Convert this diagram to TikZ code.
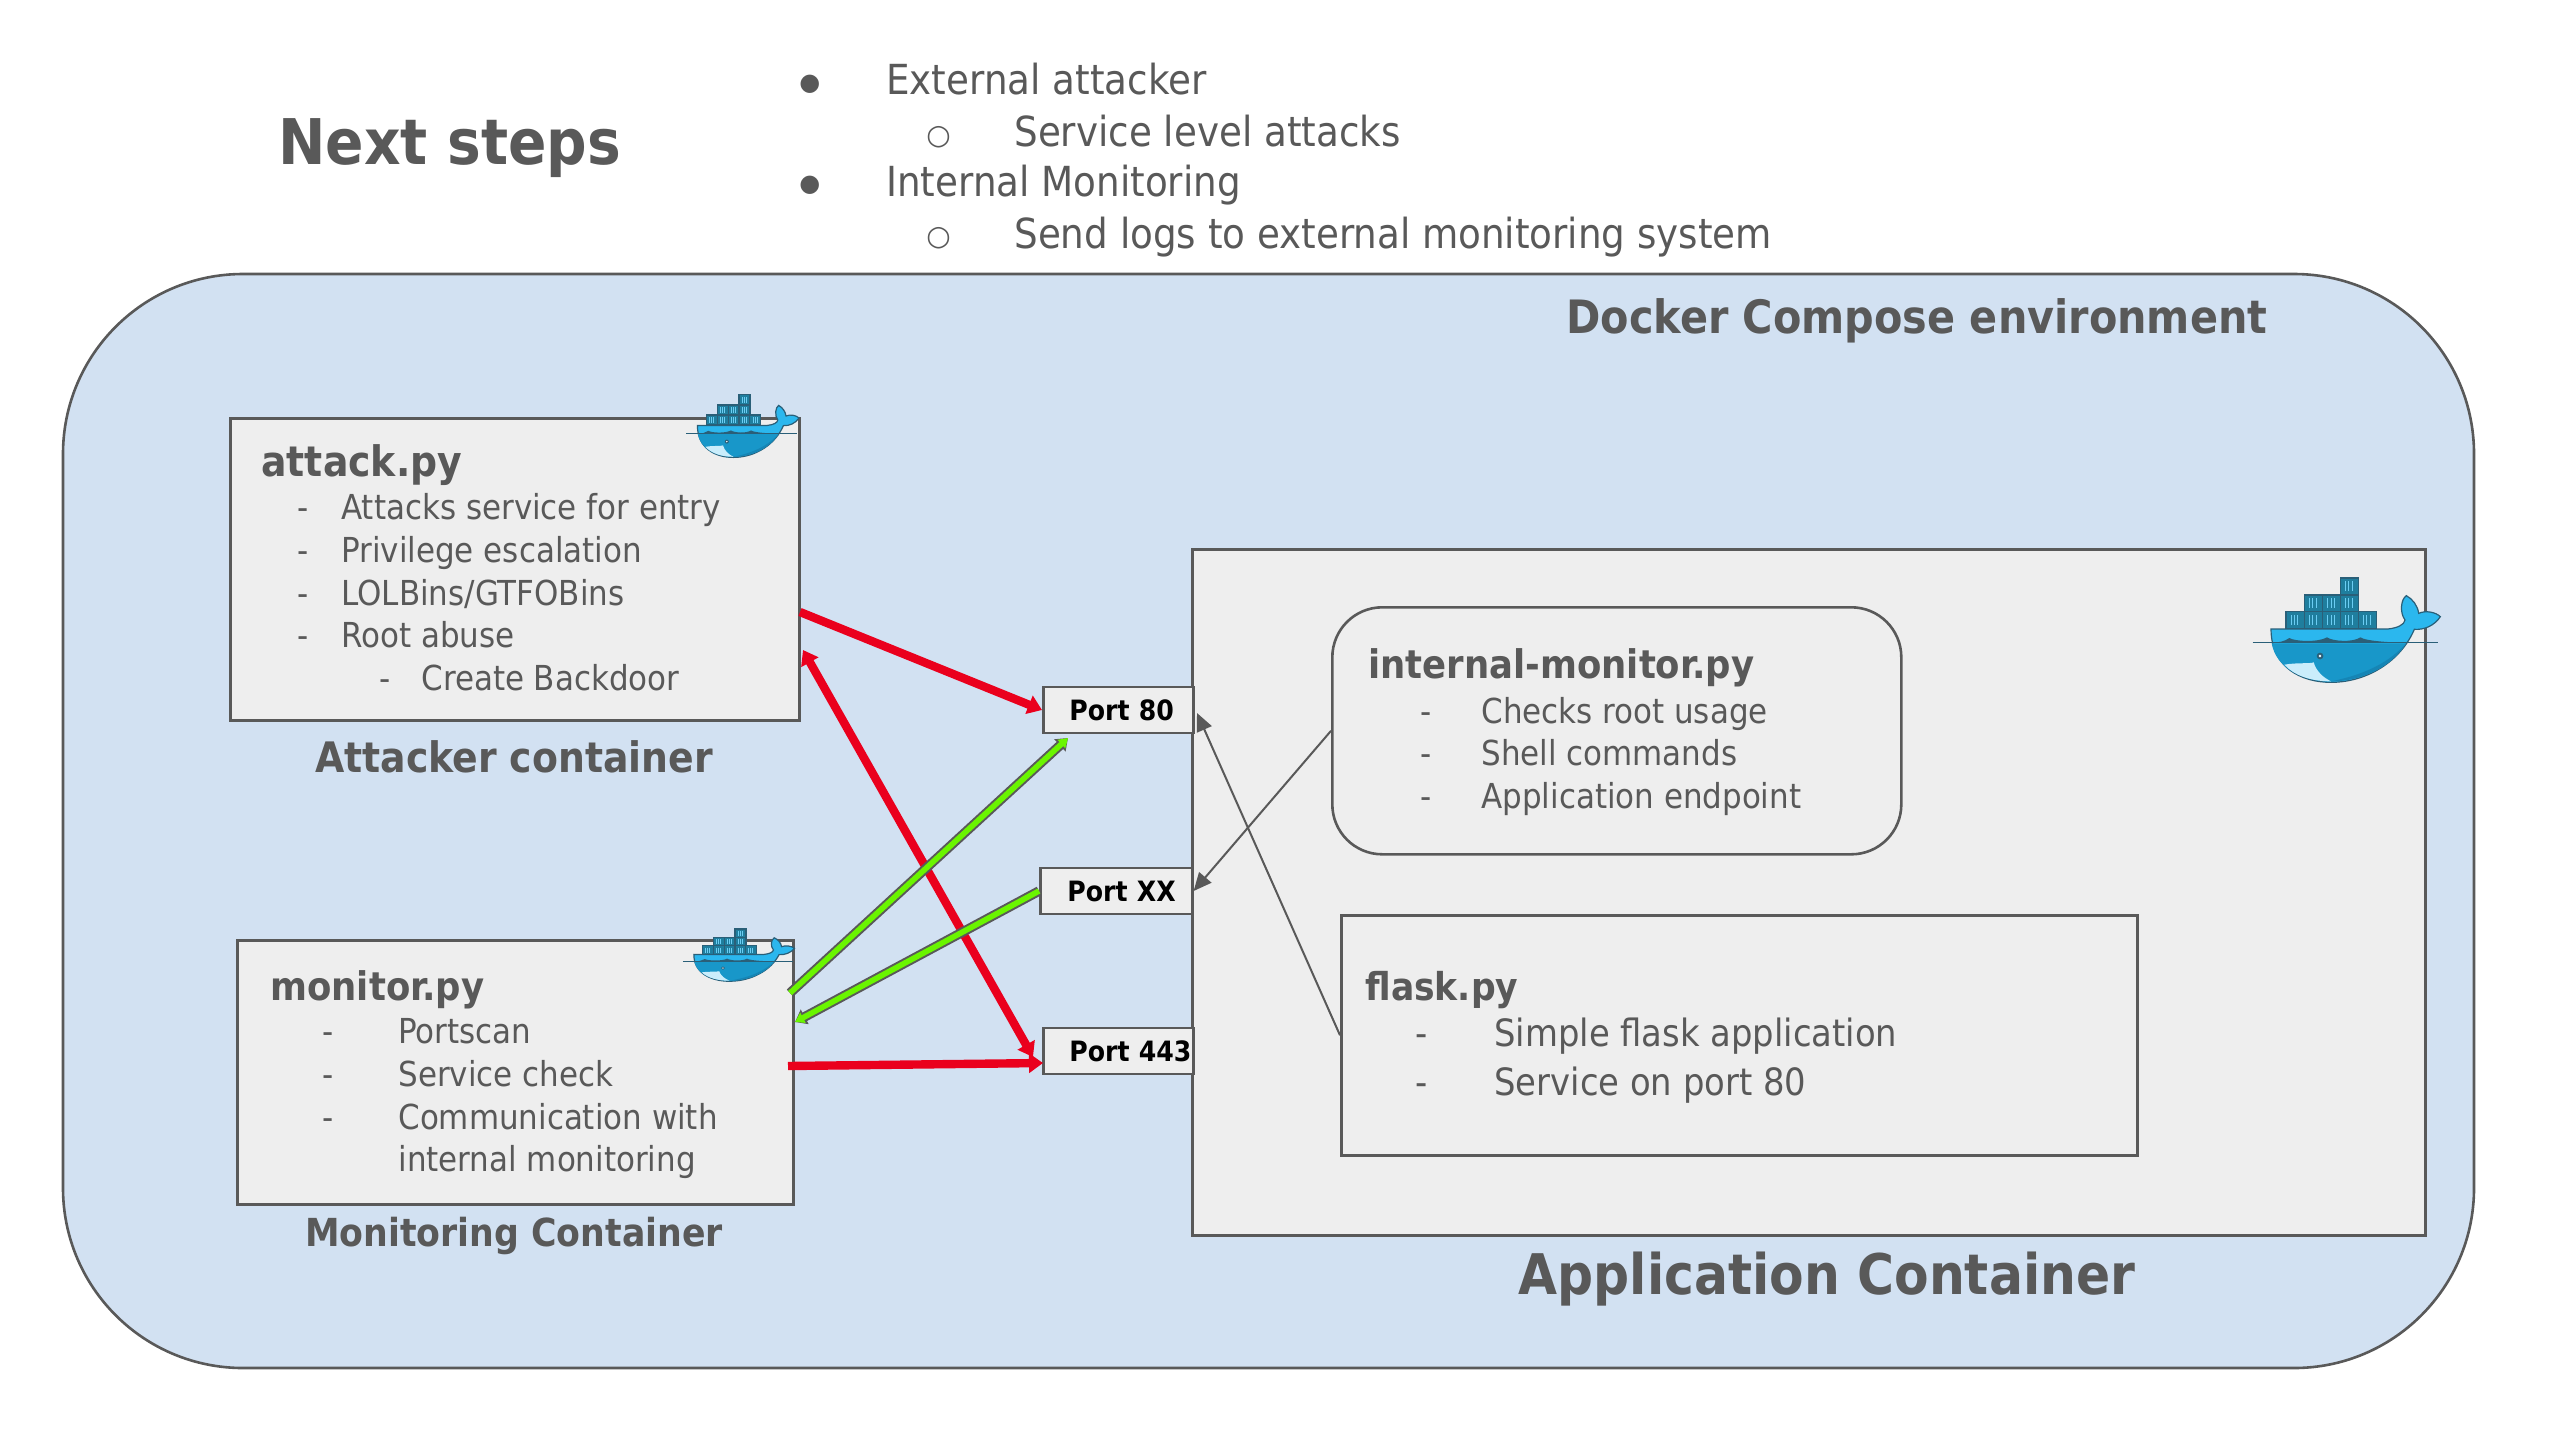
\documentclass[tikz,border=0pt]{standalone}
\usepackage{fontspec}
\setmainfont{DejaVu Sans Condensed}[BoldFont={DejaVu Sans Condensed Bold}]
\newfontfamily\symfont{DejaVu Sans}
\usetikzlibrary{arrows.meta}
\definecolor{envblue}{HTML}{D2E1F2}
\definecolor{boxgray}{HTML}{EEEEEE}
\definecolor{edgegray}{HTML}{595959}
\definecolor{redline}{HTML}{EA001D}
\definecolor{greenline}{HTML}{6AF500}
\definecolor{whalelight}{HTML}{2BB7EE}
\definecolor{whalemid}{HTML}{1897C9}
\definecolor{whalelow}{HTML}{1585B5}
\definecolor{whaledark}{HTML}{2A5F78}
\definecolor{cargo}{HTML}{1F7E9E}
\tikzset{
  x=0.5pt, y=-0.5pt,
  box/.style={draw=edgegray, fill=boxgray, line width=1.3pt, anchor=north west, inner sep=0pt},
  portbox/.style={box, anchor=west, font=\bfseries\fontsize{14}{18}\selectfont, text=black, align=left, inner xsep=13pt, text width=49pt, minimum height=23pt},
  line/.style={anchor=base west, inner sep=0pt, text=edgegray, font=\fontsize{17.2}{22}\selectfont},
  bigline/.style={line, font=\fontsize{18.8}{24}\selectfont},
  stepline/.style={line, font=\fontsize{20.7}{24}\selectfont},
  head/.style={line, font=\bfseries\fontsize{19.7}{24}\selectfont},
  caption/.style={head, anchor=base},
  redarrow/.style={draw=redline, line width=4.2pt, -{Triangle[length=7pt,width=9.5pt]}},
  greenarrow/.style={draw=greenline, line width=2.8pt, -{Triangle[length=4.5pt,width=5.5pt]},
    preaction={draw=edgegray, line width=4.8pt, -{Triangle[length=5.5pt,width=8pt]}}},
  grayarrow/.style={draw=edgegray, line width=1pt, -{Triangle[length=9pt,width=8pt]}},
  pics/whale/.style={code={
    \begin{scope}[shift={(-378,-238)}]
    \foreach \cx/\cy in {195/183,250/183,305/183,358/183,412/183,250/133,305/133,358/133,358/82} {
      \draw [draw=whaledark, fill=cargo, line width=0.6pt] (\cx,\cy) rectangle ++(55,50);
      \foreach \sx in {15,25,35} \draw [draw=whalelight!70, line width=0.3pt] (\cx+\sx,\cy+10) -- (\cx+\sx,\cy+40);
    }
    \draw [draw=whaledark, fill=whalelight, line width=0.6pt] (150,235) -- (500,235) .. controls (530,232) and (550,222) .. (552,208) .. controls (535,185) and (540,145) .. (556,135) .. controls (575,145) and (590,165) .. (593,188) .. controls (615,178) and (645,185) .. (658,198) .. controls (640,225) and (610,238) .. (580,236) .. controls (540,330) and (440,395) .. (330,395) .. controls (240,395) and (150,350) .. (150,235) -- cycle;
    \fill [whalemid] (152,278) -- (555,278) .. controls (510,350) and (420,392) .. (330,392) .. controls (240,392) and (165,350) .. (152,278) -- cycle;
    \fill [whalelow] (555,278) .. controls (510,350) and (420,392) .. (330,392) .. controls (440,370) and (510,330) .. (555,278) -- cycle;
    \fill [whalelight!25!white] (190,342) .. controls (230,335) and (265,340) .. (278,335) .. controls (285,360) and (305,380) .. (330,392) .. controls (270,392) and (220,375) .. (190,342) -- cycle;
    \fill [whaledark] (297,316) circle (10);
    \fill [white] (297,316) circle (4);
    \fill [whaledark] (150,276) .. controls (175,276) and (190,272) .. (205,262) .. controls (220,272) and (290,276) .. (318,260) .. controls (335,272) and (395,276) .. (418,260) .. controls (435,272) and (520,276) .. (555,276) -- cycle;
    \draw [draw=whaledark, line width=0.6pt] (95,276) -- (650,276);
    \end{scope}
  }},
}
\newcommand{\listline}[6]{\node [#6] (#1d) at (#2,#4) {-}; \node [#6] (#1) at (#3,#4) {#5};}
\begin{document}
\begin{tikzpicture}
\useasboundingbox (0,0) rectangle (2557,1435);
\fill [white] (0,0) rectangle (2557,1435);
\node [head, font=\bfseries\fontsize{31.5}{36}\selectfont] (title) at (278,164) {Next steps};
\node [line, font=\symfont\fontsize{12}{22}\selectfont] (bulleta) at (799,90) {●};
\node [line, font=\symfont\fontsize{14}{22}\selectfont] (bulletb) at (926,144) {○};
\node [line, font=\symfont\fontsize{12}{22}\selectfont] (bulletc) at (799,191) {●};
\node [line, font=\symfont\fontsize{14}{22}\selectfont] (bulletd) at (926,245) {○};
\node [stepline] (stepa) at (886,94) {External attacker};
\node [stepline] (stepb) at (1014,146) {Service level attacks};
\node [stepline] (stepc) at (886,196) {Internal Monitoring};
\node [stepline] (stepd) at (1014,248) {Send logs to external monitoring system};
\draw [draw=edgegray, fill=envblue, line width=1.3pt, rounded corners=90pt] (63,274) rectangle (2474,1368);
\node [head, font=\bfseries\fontsize{23}{26}\selectfont] (envlabel) at (1566,333) {Docker Compose environment};
\node [box, minimum width=284.5pt, minimum height=151pt] (attackbox) at (229,417) {};
\node [head, font=\bfseries\fontsize{21}{26}\selectfont] (attackname) at (261,476) {attack.py};
\listline{attacka}{297}{341}{519}{Attacks service for entry}{line}
\listline{attackb}{297}{341}{562}{Privilege escalation}{line}
\listline{attackc}{297}{341}{605}{LOLBins/GTFOBins}{line}
\listline{attackd}{297}{341}{647}{Root abuse}{line}
\listline{attacke}{379}{421}{690}{Create Backdoor}{line}
\node [caption, font=\bfseries\fontsize{21}{26}\selectfont] (attacklabel) at (514,772) {Attacker container};
\node [box, minimum width=278pt, minimum height=132pt] (monitorbox) at (236,939) {};
\node [head] (monitorname) at (270,1000) {monitor.py};
\listline{monitora}{322}{398}{1043}{Portscan}{line}
\listline{monitorb}{322}{398}{1086}{Service check}{line}
\listline{monitorc}{322}{398}{1129}{Communication with}{line}
\node [line] (monitord) at (398,1171) {internal monitoring};
\node [caption, font=\bfseries\fontsize{19.3}{24}\selectfont] (monitorlabel) at (514,1246) {Monitoring Container};
\node [box, minimum width=616.5pt, minimum height=343pt] (appbox) at (1191,548) {};
\node [box, minimum width=284.5pt, minimum height=123.5pt, rounded corners=25pt] (internalbox) at (1331,606) {};
\node [head] (internalname) at (1368,678) {internal-monitor.py};
\listline{internala}{1420}{1481}{723}{Checks root usage}{line}
\listline{internalb}{1420}{1481}{765}{Shell commands}{line}
\listline{internalc}{1420}{1481}{808}{Application endpoint}{line}
\node [box, minimum width=398pt, minimum height=120pt] (flaskbox) at (1340,914) {};
\node [head, font=\bfseries\fontsize{19.2}{24}\selectfont] (flaskname) at (1365,1000) {flask.py};
\listline{flaska}{1415}{1494}{1046}{Simple flask application}{bigline}
\listline{flaskb}{1415}{1494}{1095}{Service on port 80}{bigline}
\node [caption, font=\bfseries\fontsize{28}{32}\selectfont] (applabel) at (1827,1294) {Application Container};
\node [portbox] (port80) at (1042,710) {\mbox{Port 80}};
\node [portbox, inner xsep=13.5pt, text width=49pt] (portxx) at (1039,891) {\mbox{Port XX}};
\node [portbox] (port443) at (1042,1051) {\mbox{Port 443}};
\pic (whaleattack) [scale=0.2] at (743,426) {whale};
\pic (whalemonitor) [xscale=0.198, yscale=0.167] at (739,955) {whale};
\pic (whaleapp) [scale=0.3333] at (2347,630) {whale};
\coordinate (attackout) at (800,612);
\coordinate (attackback) at (803,650);
\coordinate (port443a) at (1033,1057);
\coordinate (port443b) at (1043,1063);
\coordinate (monitorred) at (788,1066);
\coordinate (monitorgreen) at (790,993);
\coordinate (monitorin) at (795,1022);
\coordinate (port80below) at (1068,738);
\coordinate (port80in) at (1197,713);
\draw [redarrow] (attackout) -- (port80.west);
\draw [redarrow, {Triangle[length=7pt,width=9.5pt]}-{Triangle[length=7pt,width=9.5pt]}] (attackback) -- (port443a);
\draw [redarrow] (monitorred) -- (port443b);
\draw [greenarrow] (monitorgreen) -- (port80below);
\draw [greenarrow] (portxx.west) -- (monitorin);
\draw [grayarrow] (internalbox.west) -- (portxx.east);
\draw [grayarrow] (flaskbox.west) -- (port80in);
\end{tikzpicture}
\end{document}
